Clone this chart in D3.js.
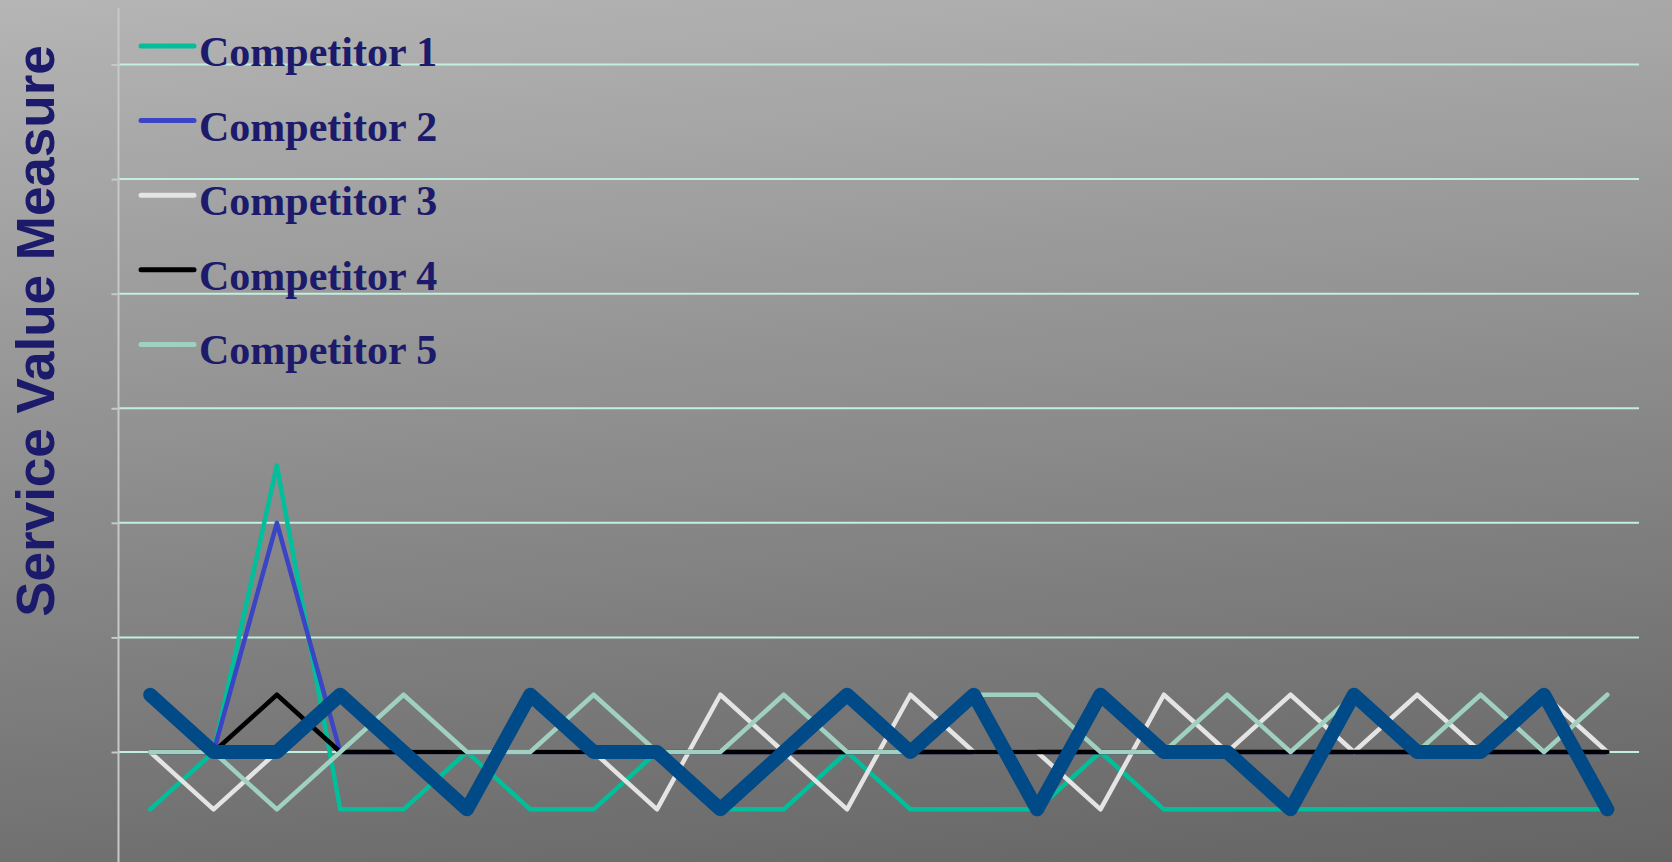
<!DOCTYPE html>
<html>
<head>
<meta charset="utf-8">
<script src="https://cdn.jsdelivr.net/npm/d3@7"></script>
<style>
  html, body { margin: 0; padding: 0; background: #888; }
  svg { display: block; }
</style>
</head>
<body>
<svg id="chart" width="1672" height="862"></svg>
<script>
// ---- data ----
const categories = d3.range(1, 25).map(String);          // 24 periods, unlabeled on the chart
const competitor1 = [-1,0,5,-1,-1,0,-1,-1,0,-1,-1,0,-1,-1,-1,0,-1,-1,-1,-1,-1,-1,-1,-1];
const competitor2 = [0,0,4,0,0,0,0,0,0,0,0,0,0,0,0,0,0,0,0,0,0,0,0,0];
const competitor3 = [0,-1,0,null,0,0,0,0,-1,1,0,-1,1,0,0,-1,1,0,1,0,1,0,1,0];
const competitor4 = [0,0,1,0,0,0,0,0,0,0,0,0,0,0,0,0,0,0,0,0,0,0,0,0];
const competitor5 = [0,0,-1,0,1,0,0,1,0,0,1,0,0,1,1,0,0,1,0,1,0,1,0,1];
const ourService  = [1,0,0,1,0,-1,1,0,0,-1,0,1,0,1,-1,1,0,0,-1,1,0,0,1,-1];
const seriesNames = ["Competitor 1","Competitor 2","Competitor 3","Competitor 4","Competitor 5"];
const yTicks = [0, 2, 4, 6, 8, 10, 12];
const yTitle = "Service Value Measure";

// ---- styling ----
const colors = ["#00BF9A", "#3A44C4", "#E4E4E4", "#000000", "#A0D0C0"];
const mainColor = "#004A87";
const textColor = "#1B1A6B";

const W = 1672, H = 862;
const svg = d3.select("#chart");

// background gradient
const defs = svg.append("defs");
const grad = defs.append("linearGradient").attr("id", "bg")
  .attr("gradientUnits", "userSpaceOnUse")
  .attr("x1", 0).attr("y1", 0).attr("x2", 94).attr("y2", 1009);
grad.append("stop").attr("offset", "0").attr("stop-color", "#b5b5b5");
grad.append("stop").attr("offset", "1").attr("stop-color", "#646464");
svg.append("rect").attr("width", W).attr("height", H).attr("fill", "url(#bg)");

// scales
const plotLeft = 118.5, plotRight = 1639;
const x = d3.scalePoint().domain(categories).range([plotLeft, plotRight]).padding(0.5);
const y = d3.scaleLinear().domain([-2, 13]).range([866.6, 7.2]);

// gridlines
svg.append("g").selectAll("line").data(yTicks).join("line")
  .attr("x1", plotLeft).attr("x2", plotRight)
  .attr("y1", d => y(d)).attr("y2", d => y(d))
  .attr("stroke", "#C2F0E0").attr("stroke-width", 2);

// y axis (no labels)
const yAxis = svg.append("g").attr("transform", `translate(${plotLeft},0)`)
  .call(d3.axisLeft(y).tickValues(yTicks).tickSize(7).tickFormat(""));
yAxis.select(".domain").attr("stroke", "#C8C8C8").attr("stroke-width", 2)
  .attr("d", `M0,${y(13) + 1}V${H}`);
yAxis.selectAll(".tick line").attr("stroke", "#C8C8C8").attr("stroke-width", 2);

// lines
const line = d3.line().defined(d => d !== null)
  .x((d, i) => x(categories[i])).y(d => y(d));
const allSeries = [competitor1, competitor2, competitor3, competitor4, competitor5];
allSeries.forEach((s, i) => {
  svg.append("path").datum(s).attr("d", line)
    .attr("fill", "none").attr("stroke", colors[i]).attr("stroke-width", 4.5)
    .attr("stroke-linejoin", "round").attr("stroke-linecap", "round");
});
svg.append("path").datum(ourService).attr("d", line)
  .attr("fill", "none").attr("stroke", mainColor).attr("stroke-width", 14)
  .attr("stroke-linejoin", "round").attr("stroke-linecap", "round");

// legend
const lg = svg.append("g");
seriesNames.forEach((name, i) => {
  const ly = 46 + i * 74.6;
  lg.append("line").attr("x1", 141).attr("x2", 194).attr("y1", ly).attr("y2", ly)
    .attr("stroke", colors[i]).attr("stroke-width", 5).attr("stroke-linecap", "round");
  lg.append("text").attr("x", 199).attr("y", ly + 20)
    .attr("font-family", "'Liberation Serif', 'Times New Roman', serif")
    .attr("font-weight", "bold").attr("font-size", 42).attr("fill", textColor)
    .text(name);
});

// y title
svg.append("text")
  .attr("transform", `translate(54,331) rotate(-90)`)
  .attr("text-anchor", "middle")
  .attr("font-family", "'Liberation Sans', Arial, sans-serif")
  .attr("font-weight", "bold").attr("font-size", 53).attr("fill", textColor)
  .text(yTitle);
</script>
</body>
</html>
